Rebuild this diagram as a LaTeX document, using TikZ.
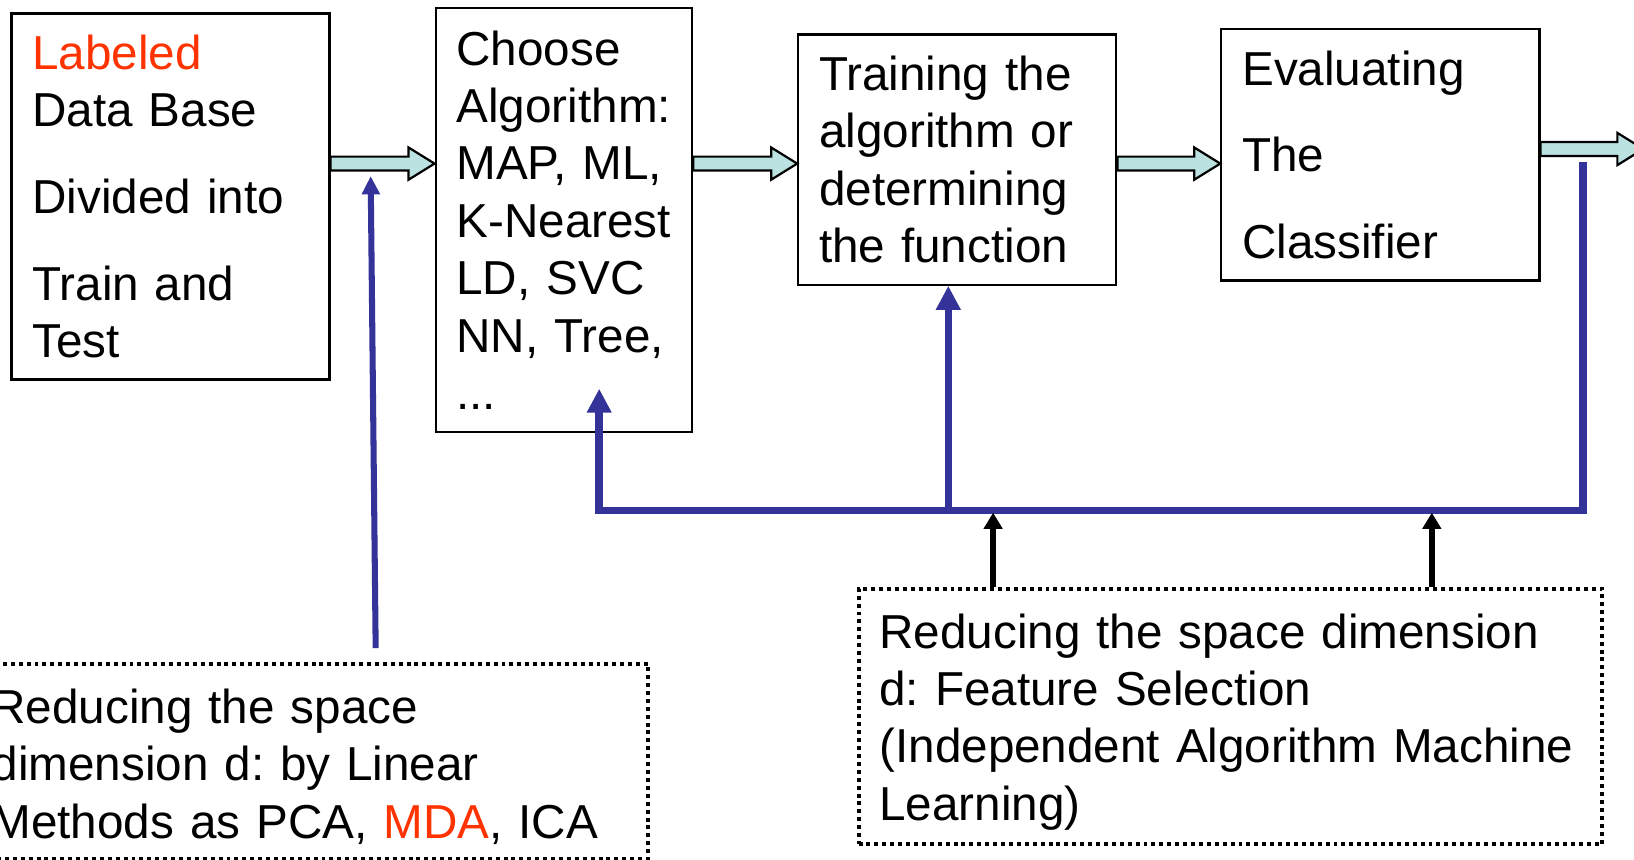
\documentclass[tikz,border=0pt]{standalone}
\usepackage{fontspec}
\setmainfont{Liberation Sans}
\usetikzlibrary{arrows.meta,calc}
\hyphenpenalty=10000
\exhyphenpenalty=10000
\frenchspacing

\definecolor{fbblue}{RGB}{51,51,153}
\definecolor{hlred}{RGB}{255,51,0}
\definecolor{pipefill}{RGB}{187,225,225}

\newcommand\bodyfont{\fontsize{13}{15.65}\selectfont}
% taller first line, to sit the note text a little lower in its frame
\newcommand\notestrut{\rule{0pt}{12.4pt}}

% hollow block arrow between two points at the same height
\newcommand\fatarrow[2]{%
  \filldraw[pipe] let \p1=(#1), \p2=(#2) in
    (\x1,\y1+1.9pt) -- (\x2-7.1pt,\y1+1.9pt) -- (\x2-7.1pt,\y1+4.4pt) --
    (\x2,\y1) -- (\x2-7.1pt,\y1-4.4pt) -- (\x2-7.1pt,\y1-1.9pt) --
    (\x1,\y1-1.9pt) -- cycle;}

\tikzset{
  box/.style={draw, line width=0.6pt, align=left, anchor=north west,
    inner xsep=0.2cm, inner ysep=0pt, font=\bodyfont},
  dotbox/.style={draw, line width=1.08pt, dash pattern=on 1.08pt off 1.08pt,
    align=left, anchor=north west, inner ysep=0pt, font=\bodyfont},
  pipe/.style={draw=black, fill=pipefill, line width=0.6pt, line join=miter},
  fb/.style={draw=fbblue, line width=2.05pt, line join=miter,
    -{Triangle[length=0.23cm, width=0.224cm]}, color=fbblue},
  thinfb/.style={draw=fbblue, line width=1.65pt,
    -{Triangle[length=0.175cm, width=0.166cm]}, color=fbblue},
  uparrow/.style={draw=black, line width=1.8pt,
    -{Triangle[length=0.154cm, width=0.173cm]}},
}

\begin{document}
\begin{tikzpicture}[x=0.01cm, y=-0.01cm]
\useasboundingbox (0,0) rectangle (1568,825);

% process boxes
\node[box, text width=2.65cm, minimum height=3.51cm] (data) at (10,12)
  {\textcolor{hlred}{Labeled}\\ Data Base\\[8pt] Divided into\\[8pt] Train and\\ Test};
\node[box, text width=2.06cm, minimum height=4.06cm] (algo) at (417,7)
  {Choose\\ Algorithm:\\ MAP, ML,\\ K-Nearest\\ LD, SVC\\ NN, Tree,\\ ...};
\node[box, text width=2.65cm, minimum height=2.40cm] (train) at (765,32)
  {Training the\\ algorithm or\\ determining\\ the function};
\node[box, text width=2.65cm, minimum height=2.41cm] (eval) at (1171,27)
  {Evaluating\\[8pt] The\\[8pt] Classifier};

% dimension-reduction notes
\node[dotbox, inner xsep=0.10cm, text width=6.20cm, minimum height=1.87cm] (linred) at (-20,635)
  {\notestrut Reducing the space\\ dimension d: by Linear\\ Methods as PCA, \textcolor{hlred}{MDA}, ICA};
\node[dotbox, inner xsep=0.2cm, text width=6.73cm, minimum height=2.45cm] (featsel) at (822,563)
  {\notestrut Reducing the space dimension\\ d: Feature Selection\\ (Independent Algorithm Machine\\ Learning)};

% rows of the main flow
\coordinate (rowA) at (0,157);
\coordinate (rowB) at (0,143);
\coordinate (outR) at (1577,143);

\fatarrow{data.east |- rowA}{algo.west |- rowA}
\fatarrow{algo.east |- rowA}{train.west |- rowA}
\fatarrow{train.east |- rowA}{eval.west |- rowA}
\fatarrow{eval.east |- rowB}{outR}

% feedback loop
\coordinate (fbTop) at (1519,155);
\coordinate (fbCorner) at (1519,490);
\coordinate (fbLeft) at (575,490);
\coordinate (fbAlgo) at (575,373);
\coordinate (fbMid) at (910,490);
\draw[fb] (fbTop) -- (fbCorner) -- (fbLeft) -- (fbAlgo);
\draw[fb] (fbMid) -- (fbMid |- train.south);

% feature selection feeds the loop
\coordinate (fsA) at (953,492);
\coordinate (fsB) at (1374,492);
\draw[uparrow] (featsel.north -| fsA) -- (fsA);
\draw[uparrow] (featsel.north -| fsB) -- (fsB);

% linear reduction feeds the first stage
\coordinate (linStart) at (360.5,622);
\coordinate (linTip) at (355.7,169);
\draw[thinfb] (linStart) -- (linTip);
\end{tikzpicture}
\end{document}
